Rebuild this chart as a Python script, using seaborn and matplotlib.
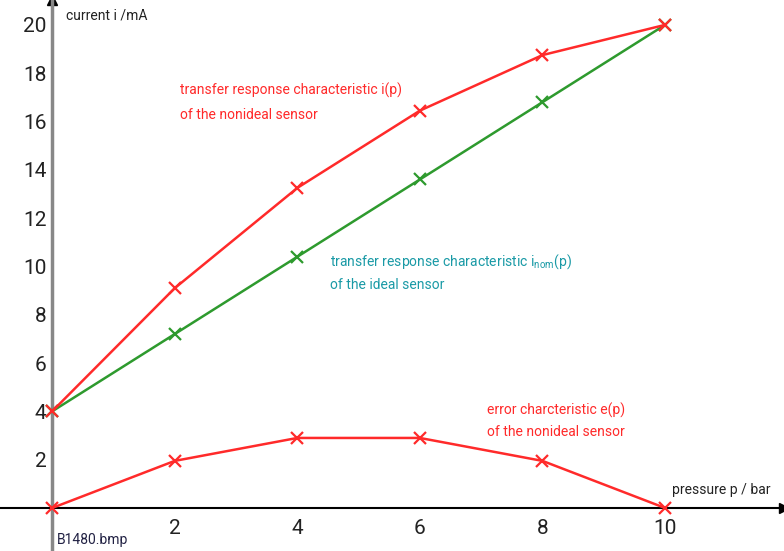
import numpy as np
import pandas as pd
import matplotlib
matplotlib.use("Agg")
import matplotlib.pyplot as plt
import seaborn as sns

# ---- Data ----
pressure = [0, 2, 4, 6, 8, 10]
i_nonideal = [4.0, 9.1, 13.25, 16.45, 18.75, 20.0]
i_ideal = [4.0, 7.2, 10.4, 13.6, 16.8, 20.0]
error = [0.0, 1.95, 2.9, 2.9, 1.95, 0.0]

x_ticks = [2, 4, 6, 8, 10]
y_ticks = [2, 4, 6, 8, 10, 12, 14, 16, 18, 20]

RED = "#ff2a2a"
GREEN = "#2e9a2e"
TEAL = "#1a9aa6"

sns.set_style("white")
plt.rcParams["font.family"] = ["Roboto", "DejaVu Sans"]

fig = plt.figure(figsize=(7.84, 5.51), dpi=100)
ax = fig.add_axes([0, 0, 1, 1])

df = pd.DataFrame({"p": pressure, "nonideal": i_nonideal, "ideal": i_ideal, "error": error})

for col, color in [("ideal", GREEN), ("nonideal", RED), ("error", RED)]:
    sns.lineplot(data=df, x="p", y=col, ax=ax, color=color, lw=1.8,
                 marker="x", markersize=8, markeredgewidth=1.6,
                 markeredgecolor=color, clip_on=False, zorder=3)

ax.set_xlim(-0.85, 11.94)
ax.set_ylim(-1.78, 21.03)

# ---- axes through the origin ----
for s in ["top", "right"]:
    ax.spines[s].set_visible(False)
ax.spines["left"].set_position(("data", 0))
ax.spines["bottom"].set_position(("data", 0))
ax.spines["left"].set_color("#888888")
ax.spines["left"].set_linewidth(2.5)
ax.spines["bottom"].set_color("black")
ax.spines["bottom"].set_linewidth(1.5)
ax.plot(1, 0, ">k", ms=7, transform=ax.get_yaxis_transform(), clip_on=False)
ax.plot(0, 1, "^k", ms=7, transform=ax.get_xaxis_transform(), clip_on=False)

ax.set_xticks(x_ticks)
ax.set_yticks(y_ticks)
ax.tick_params(axis="both", direction="inout", length=10, width=1.5,
               colors="#222222", labelsize=15)
ax.tick_params(axis="y", pad=-1)
ax.tick_params(axis="x", pad=3)
ax.set_xlabel("")
ax.set_ylabel("")

# ---- labels ----
fs = 10
ax.text(0.23, 20.4, "current i /mA", fontsize=fs, color="#222222", va="center")
ax.text(10.11, 0.75, "pressure p / bar", fontsize=fs, color="#222222", va="center",
        clip_on=False)
ax.text(0.07, -1.32, "B1480.bmp", fontsize=fs, color="#222244", va="center")

ax.text(2.09, 17.3, "transfer response characteristic i(p)", fontsize=fs, color=RED, va="center")
ax.text(2.09, 16.27, "of the nonideal sensor", fontsize=fs, color=RED, va="center")
ax.text(4.53, 10.19, "transfer response characteristic i$_{\\mathregular{nom}}$(p)",
        fontsize=fs, color=TEAL, va="center")
ax.text(4.53, 9.23, "of the ideal sensor", fontsize=fs, color=TEAL, va="center")
ax.text(7.1, 4.06, "error charcteristic e(p)", fontsize=fs, color=RED, va="center")
ax.text(7.1, 3.15, "of the nonideal sensor", fontsize=fs, color=RED, va="center")

fig.savefig("out.png", dpi=100)
